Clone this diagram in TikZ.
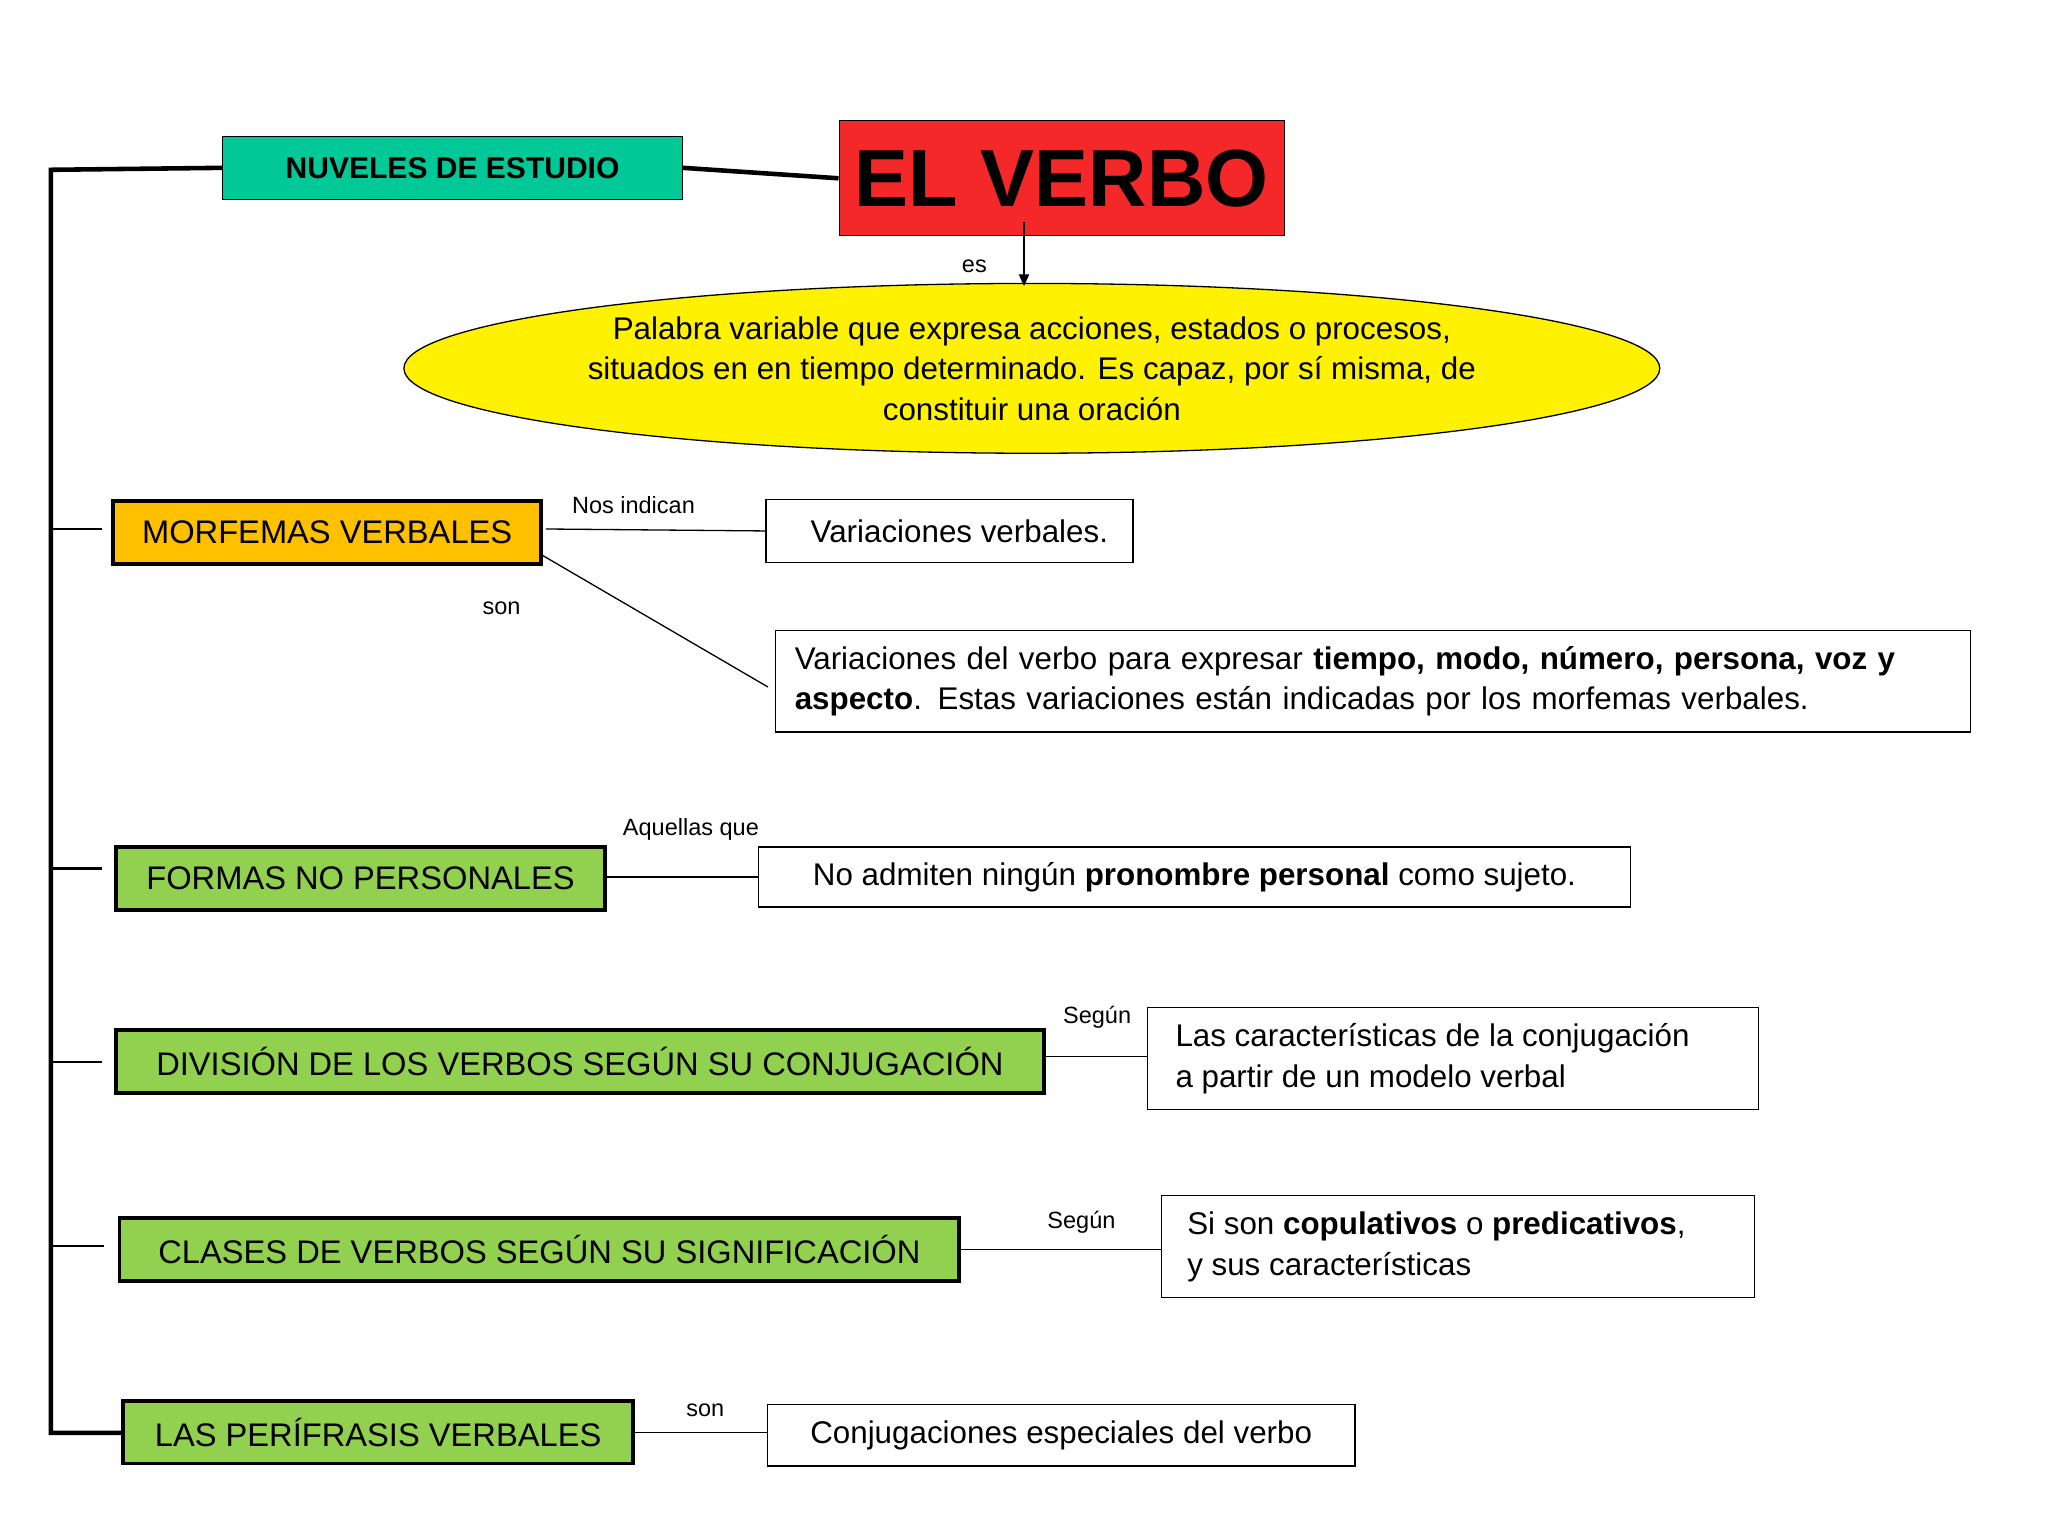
\documentclass[tikz,border=0pt]{standalone}
\usepackage{fontspec}
\setmainfont{Liberation Sans}
\usetikzlibrary{arrows.meta,shapes.geometric}
\definecolor{teal2}{HTML}{00C896}
\definecolor{red2}{HTML}{F42828}
\definecolor{org}{HTML}{FFC000}
\definecolor{grn}{HTML}{92D050}
\begin{document}
\begin{tikzpicture}[x=1pt,y=-1pt,
 big/.style={draw,line width=3pt,font=\fontsize{25}{30}\selectfont,anchor=north west,inner sep=0pt},
 tbox/.style={draw,line width=1pt,font=\fontsize{24}{31}\selectfont,anchor=north west,inner sep=0pt},
 lab/.style={font=\fontsize{18}{20}\selectfont},
 ln/.style={line width=1pt}]
\useasboundingbox (0,0) rectangle (1568,1176);
\node[draw,line width=1pt,fill=teal2,anchor=north west,minimum width=352,minimum height=48,inner sep=0pt,font=\fontsize{23}{26}\selectfont\bfseries] (nv) at (170,104) {NUVELES DE ESTUDIO};
\node[draw,line width=1pt,fill=red2,anchor=north west,minimum width=341,minimum height=88,inner sep=0pt,font=\fontsize{62}{70}\selectfont\bfseries] (ev) at (642,92) {EL VERBO};
\coordinate (tl) at (39,130);
\coordinate (bl) at (39,1097);
\draw[line width=3.5pt] (nv.west) -- (tl) -- (bl) -- (93,1097);
\draw[line width=3.5pt] (nv.east) -- (ev.west);
\node[draw,line width=1pt,fill=yellow,ellipse,minimum width=874,minimum height=130,inner sep=0pt,align=center,font=\fontsize{24}{31}\selectfont] (el) at (790,282) {Palabra variable que expresa acciones, estados o procesos,\\situados en en tiempo determinado. Es capaz, por sí misma, de\\constituir una oración};
\coordinate (es) at (784,170);
\draw[ln,-{Triangle[length=9pt,width=8pt]}] (es) -- (784,219);
\node[lab] at (746,204) {es};

\node[big,fill=org,minimum width=328,minimum height=48] (m) at (85,382) {MORFEMAS VERBALES};
\node[tbox,minimum width=281,minimum height=48] (m1) at (586,382) {\hspace{15pt}Variaciones verbales.\hfill};
\node[tbox,minimum width=915,minimum height=78,align=left,text width=915,inner xsep=0pt] (m2) at (593,482) {\hspace*{15pt}\parbox{890pt}{Variaciones del verbo para expresar \textbf{tiempo, modo, número, persona, voz y aspecto}. Estas variaciones están indicadas por los morfemas verbales.}};
\draw[ln] (418,405) -- (m1.west);
\draw[ln] (415,425) -- (588,526);
\node[lab] at (485,387) {Nos indican};
\node[lab] at (384,466) {son};
\draw[line width=2pt] (39,405) -- (78,405);

\node[big,fill=grn,minimum width=375,minimum height=48] (f) at (87,647) {FORMAS NO PERSONALES};
\node[tbox,minimum width=668,minimum height=46] (f1) at (580,648) {No admiten ningún \textbf{pronombre personal} como sujeto.};
\draw[ln] (f.east|-f1.west) -- (f1.west);
\node[lab] at (529,635) {Aquellas que};
\draw[line width=2pt] (39,665) -- (78,665);

\node[big,fill=grn,minimum width=711,minimum height=48] (d) at (87,787) {DIVISIÓN DE LOS VERBOS SEGÚN SU CONJUGACIÓN};
\node[tbox,minimum width=468,minimum height=78,align=left] (d1) at (878,771) {\hspace*{15pt}\parbox{440pt}{Las características de la conjugación\\a partir de un modelo verbal}};
\draw[ln] (800,809) -- (d1.west|-0,809);
\node[lab] at (840,779) {Según};
\draw[line width=2pt] (39,813) -- (78,813);

\node[big,fill=grn,minimum width=643,minimum height=48] (c) at (90,931) {CLASES DE VERBOS SEGÚN SU SIGNIFICACIÓN};
\node[tbox,minimum width=454,minimum height=78,align=left] (c1) at (889,915) {\hspace*{15pt}\parbox{430pt}{Si son \textbf{copulativos} o \textbf{predicativos},\\y sus características}};
\draw[ln] (c.east) -- (c1.west|-c.east);
\node[lab] at (828,936) {Según};
\draw[line width=2pt] (39,954) -- (80,954);

\node[big,fill=grn,minimum width=390,minimum height=48] (p) at (93,1071) {LAS PERÍFRASIS VERBALES};
\node[tbox,minimum width=450,minimum height=47] (p1) at (587,1075) {Conjugaciones especiales del verbo};
\draw[ln] (483,1097) -- (p1.west|-0,1097);
\node[lab] at (540,1080) {son};
\end{tikzpicture}
\end{document}
